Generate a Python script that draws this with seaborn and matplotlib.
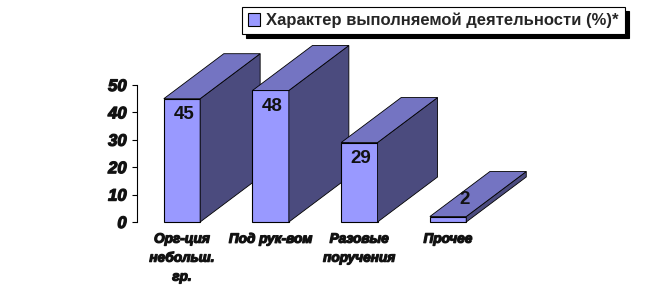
import matplotlib
matplotlib.use("Agg")
import matplotlib.pyplot as plt
from matplotlib.patches import Polygon
import matplotlib.patheffects as pe
import seaborn as sns
import pandas as pd

categories = ["Орг-ция\nнебольш.\nгр.", "Под рук-вом", "Разовые\nпоручения", "Прочее"]
values = [45, 48, 29, 2]
series_name = "Характер выполняемой деятельности (%)*"
yticks = [0, 10, 20, 30, 40, 50]

front_c = "#9999FF"
top_c = "#7474C2"
side_c = "#4B4B7E"

sns.set_theme(style="white")
plt.rcParams['font.family'] = ['Liberation Sans', 'DejaVu Sans']

fig = plt.figure(figsize=(6.6, 2.95), dpi=100)
W, H = 660, 295
x0_px, y0_px = 137, 222
unit_x = 88.7
unit_y = 137 / 50.0
xmin, xmax = -0.507, 3.6
ax = fig.add_axes([x0_px / W, (H - y0_px) / H, (xmax - xmin) * unit_x / W, 50 * unit_y / H])

df = pd.DataFrame({"cat": categories, "val": values})
sns.barplot(data=df, x="cat", y="val", color=front_c, width=0.41, saturation=1,
            edgecolor="black", linewidth=0.8, ax=ax)
ax.set_xlim(xmin, xmax)
ax.set_ylim(0, 50)

dx = 60 / unit_x
dy = 45 / unit_y
for i, p in enumerate(ax.patches):
    x, w, h = p.get_x(), p.get_width(), p.get_height()
    p.set_zorder(2 + i)
    p.set_clip_on(False)
    side = Polygon([(x + w, 0), (x + w + dx, dy), (x + w + dx, h + dy), (x + w, h)],
                   closed=True, facecolor=side_c, edgecolor="black", linewidth=0.6,
                   zorder=2 + i + 0.1, clip_on=False)
    top = Polygon([(x, h), (x + dx, h + dy), (x + w + dx, h + dy), (x + w, h)],
                  closed=True, facecolor=top_c, edgecolor="black", linewidth=0.6,
                  zorder=2 + i + 0.1, clip_on=False)
    ax.add_patch(side)
    ax.add_patch(top)

heavy = [pe.withStroke(linewidth=0.9, foreground="#1a1a1a")]

for i, v in enumerate(values):
    if v > 10:
        ax.text(i + 0.02, v - 5.8, str(v), ha="center", va="center", fontsize=13.5,
                fontweight="bold", color="#111111", zorder=20)
    else:
        ax.text(i + 0.19, v + 6.2, str(v), ha="center", va="center", fontsize=13.5,
                fontweight="bold", color="#111111", zorder=20)

for s in ["top", "right", "bottom"]:
    ax.spines[s].set_visible(False)
ax.spines["left"].set_color("black")
ax.spines["left"].set_linewidth(0.8)
ax.set_yticks(yticks)
ax.set_yticklabels([str(t) for t in yticks])
for lab in ax.get_yticklabels():
    lab.set_fontsize(12)
    lab.set_fontweight("bold")
    lab.set_fontstyle("italic")
    lab.set_color("#111111")
    lab.set_path_effects(heavy)
ax.tick_params(axis="y", direction="out", length=3.5, width=0.8, color="black", pad=4, left=True)
ax.tick_params(axis="x", length=0, pad=7)
for lab in ax.get_xticklabels():
    lab.set_fontsize(9.8)
    lab.set_fontweight("bold")
    lab.set_fontstyle("italic")
    lab.set_linespacing(1.45)
    lab.set_verticalalignment("top")
    lab.set_color("#111111")
    lab.set_path_effects(heavy)
ax.set_xlabel("")
ax.set_ylabel("")
ax.patch.set_alpha(0)

handle = plt.Rectangle((0, 0), 1, 1, facecolor=front_c, edgecolor="black", linewidth=0.8)
leg = fig.legend([handle], [series_name], loc="upper left", bbox_to_anchor=(242 / W, 1 - 7 / H),
                 frameon=True, fancybox=False,
                 shadow={"color": "black", "alpha": 1, "ox": 3, "oy": -3},
                 prop={"size": 12, "weight": "bold"}, handlelength=0.75, handleheight=0.75,
                 handletextpad=0.35, borderpad=0.35, borderaxespad=0)
leg.get_frame().set_edgecolor("black")
leg.get_frame().set_linewidth(0.8)
leg.get_frame().set_alpha(1)

fig.savefig("out.png", dpi=100)
